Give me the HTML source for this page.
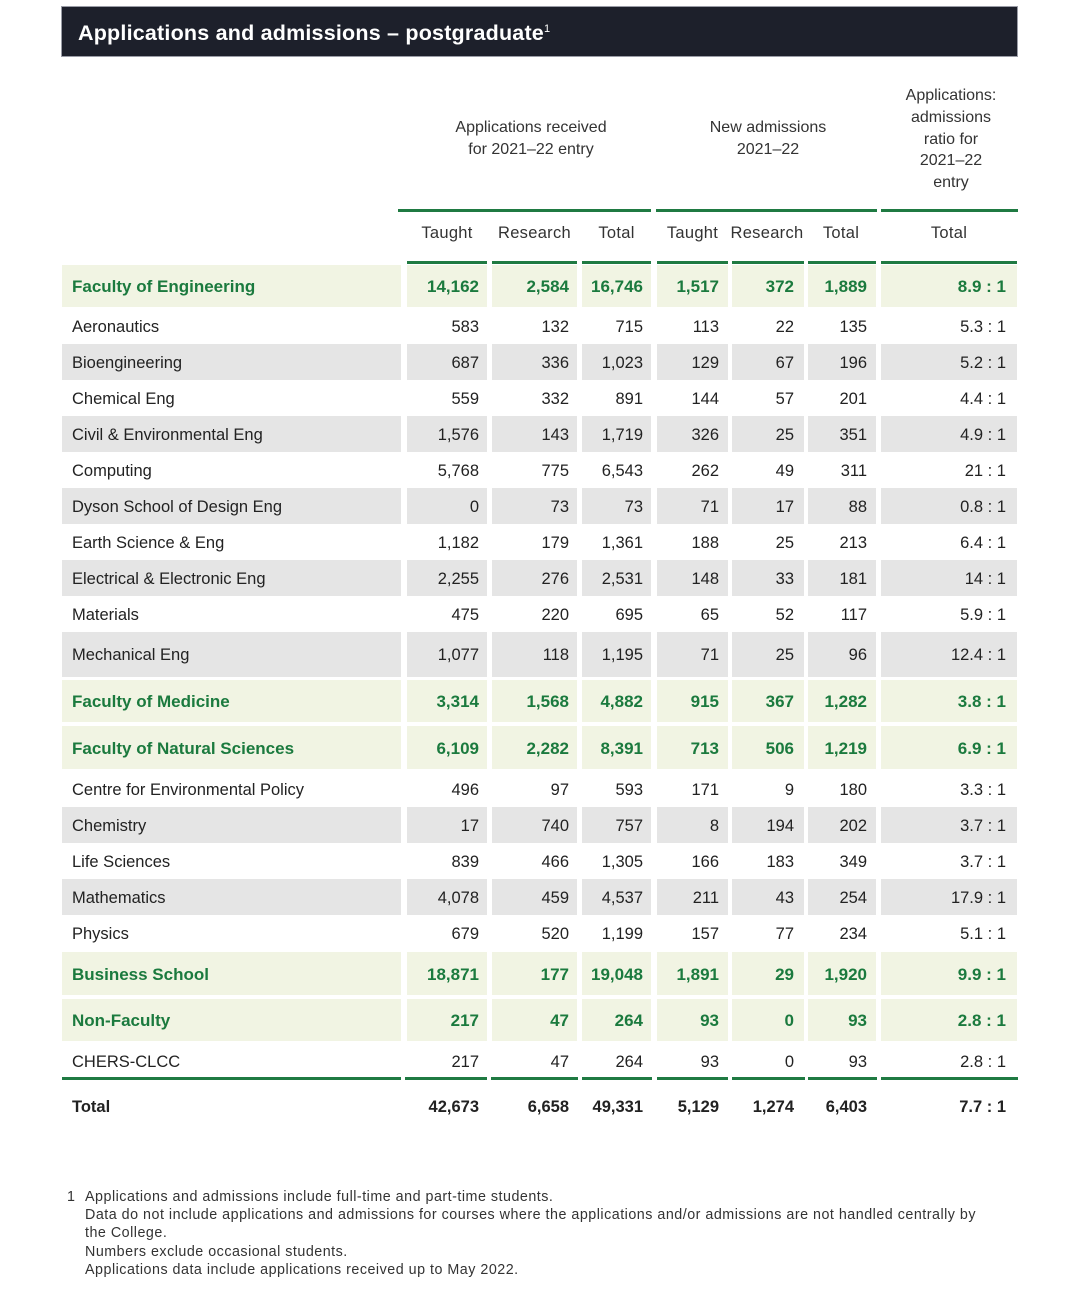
<!DOCTYPE html>
<html>
<head>
<meta charset="utf-8">
<style>
*{margin:0;padding:0;box-sizing:border-box;}
html,body{width:1080px;height:1292px;background:#fff;overflow:hidden;}
body{position:relative;font-family:"Liberation Sans",Arial,sans-serif;color:#222;}
.bar{position:absolute;left:61px;top:6px;width:957px;height:51px;background:#1d202b;border:1px solid #9a9ca6;}
.bar span{position:absolute;left:16px;top:-3px;line-height:50px;color:#fff;font-weight:bold;font-size:21.5px;letter-spacing:0.2px;white-space:nowrap;}
.bar sup{font-size:11px;vertical-align:8px;font-weight:normal;}
.gh{position:absolute;text-align:center;font-size:16px;color:#333;line-height:22px;white-space:nowrap;}
.ch{position:absolute;top:221px;height:24px;line-height:24px;font-size:16.5px;color:#333;text-align:center;letter-spacing:0.3px;}
.ln{position:absolute;height:3px;background:#1f7a42;}
.row{position:absolute;left:0;width:1080px;}
.c{position:absolute;top:0;height:100%;white-space:nowrap;font-size:16.5px;padding-top:1px;}
.c.l{left:62px;width:339px;padding-left:10px;text-align:left;}
.c.n{text-align:right;padding-right:8px;}
.c1{left:407px;width:80px;}
.c2{left:492px;width:85px;}
.c3{left:582px;width:69px;}
.c4{left:657px;width:71px;padding-right:9px!important;}
.c5{left:732px;width:72px;padding-right:10px!important;}
.c6{left:808px;width:68px;padding-right:9px!important;}
.c7{left:881px;width:136px;padding-right:11px!important;}
.g .c{background:#f1f4e3;color:#1b7a3e;font-weight:bold;font-size:17px;}
.gr .c{background:#e5e5e5;}
.t .c{font-weight:bold;color:#222;}
.foot{position:absolute;left:67px;top:1188px;font-size:14.3px;color:#333;line-height:18.2px;white-space:nowrap;}
.foot .num{position:absolute;left:0;top:0;}
.foot .txt{position:absolute;left:18px;top:0;letter-spacing:0.5px;}
</style>
</head>
<body>
<div class="bar"><span>Applications and admissions – postgraduate<sup>1</sup></span></div>

<div class="gh" style="left:431px;width:200px;top:117px;">Applications received<br>for 2021–22 entry</div>
<div class="gh" style="left:668px;width:200px;top:117px;">New admissions<br>2021–22</div>
<div class="gh" style="left:881px;width:140px;top:85px;line-height:21.8px;">Applications:<br>admissions<br>ratio for<br>2021–22<br>entry</div>

<div class="ln" style="left:398px;top:209px;width:253px;"></div>
<div class="ln" style="left:656px;top:209px;width:221px;"></div>
<div class="ln" style="left:881px;top:209px;width:137px;"></div>

<div class="ch" style="left:407px;width:80px;">Taught</div>
<div class="ch" style="left:492px;width:85px;">Research</div>
<div class="ch" style="left:582px;width:69px;">Total</div>
<div class="ch" style="left:657px;width:71px;">Taught</div>
<div class="ch" style="left:730px;width:74px;">Research</div>
<div class="ch" style="left:808px;width:66px;">Total</div>
<div class="ch" style="left:881px;width:136px;">Total</div>

<div class="ln" style="left:407px;top:261px;width:80px;"></div>
<div class="ln" style="left:492px;top:261px;width:85px;"></div>
<div class="ln" style="left:582px;top:261px;width:69px;"></div>
<div class="ln" style="left:657px;top:261px;width:71px;"></div>
<div class="ln" style="left:732px;top:261px;width:72px;"></div>
<div class="ln" style="left:808px;top:261px;width:68px;"></div>
<div class="ln" style="left:881px;top:261px;width:136px;"></div>

<div class="row g" style="top:265px;height:42px;line-height:42px;"><div class="c l">Faculty of Engineering</div><div class="c n c1">14,162</div><div class="c n c2">2,584</div><div class="c n c3">16,746</div><div class="c n c4">1,517</div><div class="c n c5">372</div><div class="c n c6">1,889</div><div class="c n c7">8.9 : 1</div></div>
<div class="row" style="top:308px;height:36px;line-height:36px;"><div class="c l">Aeronautics</div><div class="c n c1">583</div><div class="c n c2">132</div><div class="c n c3">715</div><div class="c n c4">113</div><div class="c n c5">22</div><div class="c n c6">135</div><div class="c n c7">5.3 : 1</div></div>
<div class="row gr" style="top:344px;height:36px;line-height:36px;"><div class="c l">Bioengineering</div><div class="c n c1">687</div><div class="c n c2">336</div><div class="c n c3">1,023</div><div class="c n c4">129</div><div class="c n c5">67</div><div class="c n c6">196</div><div class="c n c7">5.2 : 1</div></div>
<div class="row" style="top:380px;height:36px;line-height:36px;"><div class="c l">Chemical Eng</div><div class="c n c1">559</div><div class="c n c2">332</div><div class="c n c3">891</div><div class="c n c4">144</div><div class="c n c5">57</div><div class="c n c6">201</div><div class="c n c7">4.4 : 1</div></div>
<div class="row gr" style="top:416px;height:36px;line-height:36px;"><div class="c l">Civil &amp; Environmental Eng</div><div class="c n c1">1,576</div><div class="c n c2">143</div><div class="c n c3">1,719</div><div class="c n c4">326</div><div class="c n c5">25</div><div class="c n c6">351</div><div class="c n c7">4.9 : 1</div></div>
<div class="row" style="top:452px;height:36px;line-height:36px;"><div class="c l">Computing</div><div class="c n c1">5,768</div><div class="c n c2">775</div><div class="c n c3">6,543</div><div class="c n c4">262</div><div class="c n c5">49</div><div class="c n c6">311</div><div class="c n c7">21 : 1</div></div>
<div class="row gr" style="top:488px;height:36px;line-height:36px;"><div class="c l">Dyson School of Design Eng</div><div class="c n c1">0</div><div class="c n c2">73</div><div class="c n c3">73</div><div class="c n c4">71</div><div class="c n c5">17</div><div class="c n c6">88</div><div class="c n c7">0.8 : 1</div></div>
<div class="row" style="top:524px;height:36px;line-height:36px;"><div class="c l">Earth Science &amp; Eng</div><div class="c n c1">1,182</div><div class="c n c2">179</div><div class="c n c3">1,361</div><div class="c n c4">188</div><div class="c n c5">25</div><div class="c n c6">213</div><div class="c n c7">6.4 : 1</div></div>
<div class="row gr" style="top:560px;height:36px;line-height:36px;"><div class="c l">Electrical &amp; Electronic Eng</div><div class="c n c1">2,255</div><div class="c n c2">276</div><div class="c n c3">2,531</div><div class="c n c4">148</div><div class="c n c5">33</div><div class="c n c6">181</div><div class="c n c7">14 : 1</div></div>
<div class="row" style="top:596px;height:36px;line-height:36px;"><div class="c l">Materials</div><div class="c n c1">475</div><div class="c n c2">220</div><div class="c n c3">695</div><div class="c n c4">65</div><div class="c n c5">52</div><div class="c n c6">117</div><div class="c n c7">5.9 : 1</div></div>
<div class="row gr" style="top:632px;height:45px;line-height:45px;"><div class="c l">Mechanical Eng</div><div class="c n c1">1,077</div><div class="c n c2">118</div><div class="c n c3">1,195</div><div class="c n c4">71</div><div class="c n c5">25</div><div class="c n c6">96</div><div class="c n c7">12.4 : 1</div></div>
<div class="row g" style="top:680px;height:42px;line-height:42px;"><div class="c l">Faculty of Medicine</div><div class="c n c1">3,314</div><div class="c n c2">1,568</div><div class="c n c3">4,882</div><div class="c n c4">915</div><div class="c n c5">367</div><div class="c n c6">1,282</div><div class="c n c7">3.8 : 1</div></div>
<div class="row g" style="top:726px;height:43px;line-height:43px;"><div class="c l">Faculty of Natural Sciences</div><div class="c n c1">6,109</div><div class="c n c2">2,282</div><div class="c n c3">8,391</div><div class="c n c4">713</div><div class="c n c5">506</div><div class="c n c6">1,219</div><div class="c n c7">6.9 : 1</div></div>
<div class="row" style="top:771px;height:36px;line-height:36px;"><div class="c l">Centre for Environmental Policy</div><div class="c n c1">496</div><div class="c n c2">97</div><div class="c n c3">593</div><div class="c n c4">171</div><div class="c n c5">9</div><div class="c n c6">180</div><div class="c n c7">3.3 : 1</div></div>
<div class="row gr" style="top:807px;height:36px;line-height:36px;"><div class="c l">Chemistry</div><div class="c n c1">17</div><div class="c n c2">740</div><div class="c n c3">757</div><div class="c n c4">8</div><div class="c n c5">194</div><div class="c n c6">202</div><div class="c n c7">3.7 : 1</div></div>
<div class="row" style="top:843px;height:36px;line-height:36px;"><div class="c l">Life Sciences</div><div class="c n c1">839</div><div class="c n c2">466</div><div class="c n c3">1,305</div><div class="c n c4">166</div><div class="c n c5">183</div><div class="c n c6">349</div><div class="c n c7">3.7 : 1</div></div>
<div class="row gr" style="top:879px;height:36px;line-height:36px;"><div class="c l">Mathematics</div><div class="c n c1">4,078</div><div class="c n c2">459</div><div class="c n c3">4,537</div><div class="c n c4">211</div><div class="c n c5">43</div><div class="c n c6">254</div><div class="c n c7">17.9 : 1</div></div>
<div class="row" style="top:915px;height:36px;line-height:36px;"><div class="c l">Physics</div><div class="c n c1">679</div><div class="c n c2">520</div><div class="c n c3">1,199</div><div class="c n c4">157</div><div class="c n c5">77</div><div class="c n c6">234</div><div class="c n c7">5.1 : 1</div></div>
<div class="row g" style="top:952px;height:43px;line-height:43px;"><div class="c l">Business School</div><div class="c n c1">18,871</div><div class="c n c2">177</div><div class="c n c3">19,048</div><div class="c n c4">1,891</div><div class="c n c5">29</div><div class="c n c6">1,920</div><div class="c n c7">9.9 : 1</div></div>
<div class="row g" style="top:999px;height:42px;line-height:42px;"><div class="c l">Non-Faculty</div><div class="c n c1">217</div><div class="c n c2">47</div><div class="c n c3">264</div><div class="c n c4">93</div><div class="c n c5">0</div><div class="c n c6">93</div><div class="c n c7">2.8 : 1</div></div>
<div class="row" style="top:1043px;height:36px;line-height:36px;"><div class="c l">CHERS-CLCC</div><div class="c n c1">217</div><div class="c n c2">47</div><div class="c n c3">264</div><div class="c n c4">93</div><div class="c n c5">0</div><div class="c n c6">93</div><div class="c n c7">2.8 : 1</div></div>

<div class="ln" style="left:62px;top:1077px;width:339px;"></div>
<div class="ln" style="left:405px;top:1077px;width:82px;"></div>
<div class="ln" style="left:491px;top:1077px;width:87px;"></div>
<div class="ln" style="left:582px;top:1077px;width:70px;"></div>
<div class="ln" style="left:657px;top:1077px;width:71px;"></div>
<div class="ln" style="left:732px;top:1077px;width:73px;"></div>
<div class="ln" style="left:808px;top:1077px;width:69px;"></div>
<div class="ln" style="left:881px;top:1077px;width:137px;"></div>

<div class="row t" style="top:1088px;height:36px;line-height:36px;"><div class="c l">Total</div><div class="c n c1">42,673</div><div class="c n c2">6,658</div><div class="c n c3">49,331</div><div class="c n c4">5,129</div><div class="c n c5">1,274</div><div class="c n c6">6,403</div><div class="c n c7">7.7 : 1</div></div>

<div class="foot">
<div class="num">1</div>
<div class="txt">Applications and admissions include full-time and part-time students.<br>Data do not include applications and admissions for courses where the applications and/or admissions are not handled centrally by<br>the College.<br>Numbers exclude occasional students.<br>Applications data include applications received up to May 2022.</div>
</div>
</body>
</html>
